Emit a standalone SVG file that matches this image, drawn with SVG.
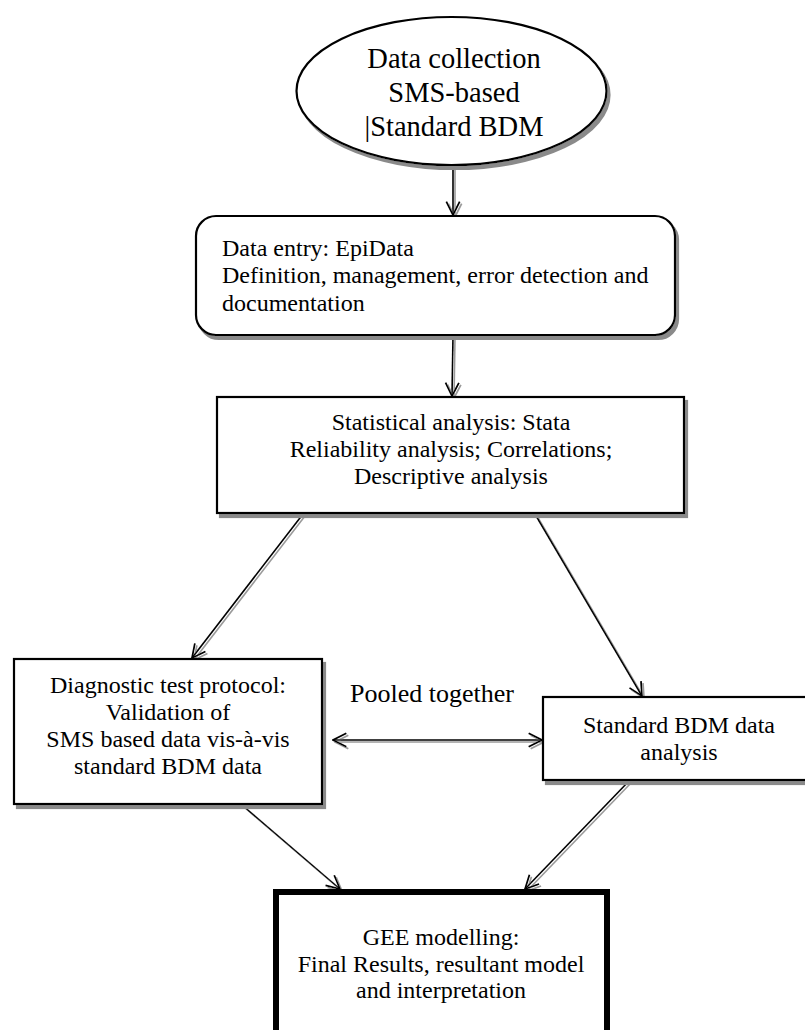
<svg xmlns="http://www.w3.org/2000/svg" width="805" height="1030" viewBox="0 0 805 1030" font-family="'Times New Roman', 'Liberation Serif', Tinos, serif">
  <defs>
    <filter id="shadow" x="-10%" y="-10%" width="130%" height="130%">
      <feDropShadow dx="3" dy="4" stdDeviation="0.6" flood-color="#8a8a8a" flood-opacity="1"/>
    </filter>
    <filter id="lineShadow" x="-20%" y="-20%" width="140%" height="140%">
      <feDropShadow dx="2" dy="2" stdDeviation="0.5" flood-color="#9a9a9a" flood-opacity="1"/>
    </filter>
    <marker id="arrow" viewBox="0 0 12 12" refX="11" refY="6" markerWidth="16" markerHeight="16" markerUnits="userSpaceOnUse" orient="auto-start-reverse">
      <path d="M1,1 L11,6 L1,11" fill="none" stroke="#000" stroke-width="1.3"/>
    </marker>
  </defs>
  <style>
    .box { fill: #fff; stroke: #000; stroke-width: 2.2; }
    .heavy { fill: #fff; stroke: #000; stroke-width: 6; }
    .label { font-family: 'Times New Roman', 'Liberation Serif', Tinos, serif; font-size: 24px; fill: #000; }
    .big { font-size: 28.5px; }
    .mid { text-anchor: middle; }
    .conn { fill: none; stroke: #000; stroke-width: 1.6; marker-end: url(#arrow); }
  </style>

  <rect width="805" height="1030" fill="#fff"/>

  <!-- connectors -->
  <g id="connectors" filter="url(#lineShadow)">
    <line class="conn" x1="453" y1="166" x2="453" y2="215"/>
    <line class="conn" x1="453" y1="336" x2="452" y2="396"/>
    <line class="conn" x1="303" y1="514" x2="192" y2="658"/>
    <line class="conn" x1="535" y1="514" x2="642" y2="696"/>
    <line class="conn" x1="333" y1="740" x2="542" y2="740" marker-start="url(#arrow)"/>
    <line class="conn" x1="242" y1="805" x2="340" y2="889"/>
    <line class="conn" x1="629" y1="781" x2="525" y2="889"/>
  </g>

  <!-- data collection -->
  <g id="collection">
    <ellipse class="box" cx="451.5" cy="91" rx="155" ry="74" filter="url(#shadow)"/>
    <text class="label big mid" x="454" y="68">Data collection</text>
    <text class="label big mid" x="454" y="102">SMS-based</text>
    <text class="label big mid" x="454" y="136">|Standard BDM</text>
  </g>

  <!-- data entry -->
  <g id="entry">
    <rect class="box" x="196" y="216" width="479" height="119" rx="20" ry="20" filter="url(#shadow)"/>
    <text class="label" x="222" y="256">Data entry: EpiData</text>
    <text class="label" x="222" y="283">Definition, management, error detection and</text>
    <text class="label" x="222" y="311">documentation</text>
  </g>

  <!-- statistical analysis -->
  <g id="statistics">
    <rect class="box" x="217" y="397" width="467" height="116" filter="url(#shadow)"/>
    <text class="label mid" x="451" y="430">Statistical analysis: Stata</text>
    <text class="label mid" x="451" y="457">Reliability analysis; Correlations;</text>
    <text class="label mid" x="451" y="484">Descriptive analysis</text>
  </g>

  <!-- diagnostic test protocol -->
  <g id="diagnostic">
    <rect class="box" x="14" y="659" width="308" height="145" filter="url(#shadow)"/>
    <text class="label mid" x="168" y="693">Diagnostic test protocol:</text>
    <text class="label mid" x="168" y="720">Validation of</text>
    <text class="label mid" x="168" y="747">SMS based data vis-à-vis</text>
    <text class="label mid" x="168" y="774">standard BDM data</text>
  </g>

  <!-- pooling label -->
  <g id="pooled">
    <text class="label" x="350" y="702" style="font-size:26px">Pooled together</text>
  </g>

  <!-- standard BDM analysis -->
  <g id="standard">
    <rect class="box" x="543" y="697" width="290" height="83" filter="url(#shadow)"/>
    <text class="label mid" x="679" y="733">Standard BDM data</text>
    <text class="label mid" x="679" y="760">analysis</text>
  </g>

  <!-- GEE modelling -->
  <g id="gee">
    <rect class="heavy" x="276" y="892" width="331" height="160"/>
    <text class="label mid" x="441" y="945">GEE modelling:</text>
    <text class="label mid" x="441" y="972">Final Results, resultant model</text>
    <text class="label mid" x="441" y="998">and interpretation</text>
  </g>
</svg>
